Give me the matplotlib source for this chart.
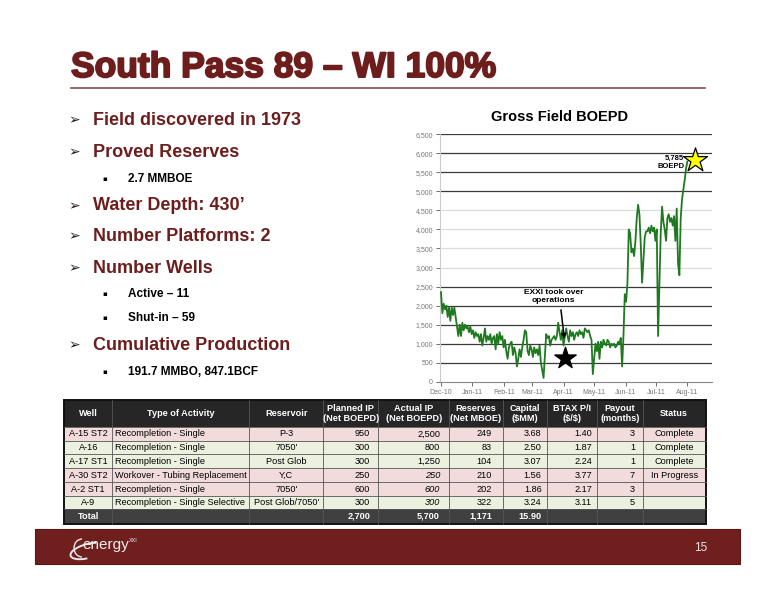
import numpy as np
import pandas as pd
import matplotlib
matplotlib.use("Agg")
import matplotlib.pyplot as plt
import matplotlib.dates as mdates
import matplotlib.patheffects as pe
from matplotlib.patches import Rectangle, Arc
from matplotlib.ticker import FuncFormatter

plt.rcParams['font.family'] = ['Liberation Sans', 'DejaVu Sans']

slideTitle = "South Pass 89 – WI 100%"
chartTitle = "Gross Field BOEPD"
pageNumber = "15"

# (level, text) for the bullet list on the left
bullets = [
    (0, "Field discovered in 1973"),
    (0, "Proved Reserves"),
    (1, "2.7 MMBOE"),
    (0, "Water Depth: 430’"),
    (0, "Number Platforms: 2"),
    (0, "Number Wells"),
    (1, "Active – 11"),
    (1, "Shut-in – 59"),
    (0, "Cumulative Production"),
    (1, "191.7 MMBO, 847.1BCF"),
]

# gross field production (Dec-10 .. Aug-11)
boepd = [
    2350, 1800, 2050, 1900, 2000, 1700, 1950, 1600, 1950, 1750, 1950, 1700,
    1450, 1200, 1500, 1200, 1550, 1350, 1500, 1400, 1450, 1300, 1450, 1250,
    1350, 1150, 1300, 1200, 1250, 1050, 1250, 950, 1150, 1400, 1050, 1200,
    1100, 1250, 1000, 1150, 1200, 850, 1250, 1000, 1300, 1100, 1200, 900,
    1100, 800, 600, 900, 1000, 1050, 700, 900, 750, 400, 600, 850,
    650, 900, 1100, 1350, 1300, 800, 700, 950, 850,
    650, 900, 750, 850, 700, 950, 500, 300, 100, 700, 1250, 1150,
    1200, 950, 1100, 1150, 1200, 1100, 1200, 1550, 1300, 1100, 1350, 950, 1200,
    1400, 1200, 1050, 1350, 1200, 1300, 1100, 1250, 1300, 1200, 1350, 1250,
    1300, 1150, 1400, 1350, 1300, 1350, 1200, 1100, 200, 600,
    1000, 800, 1050, 600, 1050, 900, 1100, 1000, 950, 1100, 1050, 900,
    1000, 950, 1000, 900, 950, 1050, 1000, 1150, 400, 1200,
    2300, 2100, 2600, 4000, 3900, 3400, 3500, 3300, 3700, 4300, 4650, 4400,
    3600, 2600, 3200, 3800, 3950, 3950, 4050, 3900, 4100, 3950, 4050, 3700, 4000,
    1200, 2600, 3900, 4600, 4200, 4000, 3700, 4300, 4400, 4200, 4300, 4100,
    4350, 3700, 4550, 3100, 2800, 4300, 4800, 5050, 5300, 5600, 5785,
]
seriesStart = "2010-12-01"
seriesEnd = "2011-08-01"
takeoverDate = "2011-04-02"
takeoverText = "EXXI took over\noperations"

# project table
tableHeaders = ["Well", "Type of Activity", "Reservoir", "Planned IP\n(Net BOEPD)",
                "Actual IP\n(Net BOEPD)", "Reserves\n(Net MBOE)", "Capital\n($MM)",
                "BTAX P/I\n($/$)", "Payout\n(months)", "Status"]
wells = ["A-15 ST2", "A-16", "A-17 ST1", "A-30 ST2", "A-2 ST1", "A-9"]
activities = ["Recompletion - Single", "Recompletion - Single", "Recompletion - Single",
              "Workover - Tubing Replacement", "Recompletion - Single",
              "Recompletion - Single Selective"]
reservoirs = ["P-3", "7050'", "Post Glob", "Y,C", "7050'", "Post Glob/7050'"]
plannedIP = [950, 300, 300, 250, 600, 300]
actualIP = [2500, 800, 1250, 250, 600, 300]
actualIsEstimate = [False, False, False, True, True, True]
reserves = [249, 83, 104, 210, 202, 322]
capital = [3.68, 2.50, 3.07, 1.56, 1.86, 3.24]
btaxPI = [1.40, 1.87, 2.24, 3.77, 2.17, 3.11]
payout = [3, 1, 1, 7, 3, 5]
status = ["Complete", "Complete", "Complete", "In Progress", "", ""]
totalRow = ["Total", "", "", "2,700", "5,700", "1,171", "15.90", "", "", ""]

darkRed = "#6e1d1d"
pink = "#f2dcdb"
green = "#ebf1de"
rowColors = [pink, green, green, pink, pink, green]

fig = plt.figure(figsize=(7.76, 6.0), dpi=100, facecolor="white")
slide = fig.add_axes([0, 0, 1, 1])
slide.set_xlim(0, 776)
slide.set_ylim(600, 0)
slide.axis("off")

# title and rule
slide.text(71, 77, slideTitle, fontsize=25.5, fontweight="bold", color=darkRed,
           va="baseline", path_effects=[pe.withStroke(linewidth=1.4, foreground=darkRed)])
slide.plot([71, 705], [87.7, 87.7], color="#8a4a4a", lw=1.2)

# bullets
bulletY = [120.7, 152.3, 178.7, 206, 236.7, 268.3, 294.3, 318.3, 345.7, 371.7]
for (level, text), y in zip(bullets, bulletY):
    if level == 0:
        slide.text(68, y, "➢", fontsize=10, family="DejaVu Sans", color="#2a1a1a",
                   ha="left", va="center", fontweight="bold")
        slide.text(93, y, text, fontsize=13, fontweight="bold", color=darkRed,
                   ha="left", va="center")
    else:
        slide.text(102, y, "▪", fontsize=5, family="DejaVu Sans", color="black",
                   ha="left", va="center")
        slide.text(128, y, text, fontsize=8.5, fontweight="bold", color="black",
                   ha="left", va="center")

# chart
slide.text(560, 117, chartTitle, fontsize=10.5, fontweight="bold", color="black",
           ha="center", va="center")

dates = pd.date_range(seriesStart, seriesEnd, periods=len(boepd))
ax = fig.add_axes([440 / 776, (600 - 381.7) / 600, (711.7 - 440) / 776, (381.7 - 134.3) / 600])
ax.set_facecolor("none")
ax.set_xlim(pd.Timestamp("2010-11-30"), pd.Timestamp("2011-08-25"))
ax.set_ylim(0, 6500)
yticks = np.arange(0, 6501, 500)
ax.set_yticks(yticks)
for t in yticks[1:]:
    c = "#dcdcdc" if 3000 <= t <= 4500 else "#3a3a3a"
    ax.axhline(t, color=c, lw=0.9, zorder=1)
ax.plot(dates, boepd, color="#1f7a1f", lw=1.3, zorder=3)
ax.xaxis.set_major_locator(mdates.MonthLocator())
ax.xaxis.set_major_formatter(mdates.DateFormatter("%b-%y"))
ax.yaxis.set_major_formatter(FuncFormatter(lambda v, p: f"{int(v):,}"))
ax.tick_params(axis="both", labelsize=5, colors="#555555", labelcolor="#777777",
               length=3, width=0.6, pad=2)
for s in ["top", "right"]:
    ax.spines[s].set_visible(False)
ax.spines["left"].set_color("#cccccc")
ax.spines["bottom"].set_color("#888888")

takeover = pd.Timestamp(takeoverDate)
ax.text(pd.Timestamp("2011-03-22"), 2230, takeoverText, fontsize=6, fontweight="bold",
        ha="center", va="center", linespacing=1.2)
ax.annotate("", xy=(takeover, 1050), xytext=(pd.Timestamp("2011-03-29"), 1960),
            arrowprops=dict(arrowstyle="-|>", color="black", lw=1.1, mutation_scale=7))
ax.scatter([takeover], [616], marker="*", s=260, color="black", zorder=4)
ax.scatter([dates[-1] + pd.Timedelta(days=8)], [5830], marker="*", s=330,
           facecolor="#ffff00", edgecolor="black", linewidth=0.9, zorder=5, clip_on=False)
ax.text(dates[-1] - pd.Timedelta(days=3), 5760, f"{boepd[-1]:,}\nBOEPD", fontsize=5.5,
        fontweight="bold", ha="right", va="center", linespacing=1.1)

# table
colX = [64.3, 112.3, 249.3, 323.3, 378.3, 449.3, 502.7, 546.7, 596.7, 642.7, 705.5]
rowY = [400, 427, 440.7, 454.3, 468.3, 482.3, 495.7, 509.3, 523.5]
rightX = [None, None, None, 370, 440, 492, 541.7, 592, 635, None]
tableFont = 6.6

def cellText(col, y, text, color="black", weight="normal", style="normal"):
    if rightX[col] is not None:
        x, ha = rightX[col], "right"
    elif col == 1:
        x, ha = colX[1] + 3, "left"
    else:
        x, ha = (colX[col] + colX[col + 1]) / 2, "center"
    slide.text(x, y, text, fontsize=tableFont, color=color, fontweight=weight, style=style,
               ha=ha, va="center", parse_math=False)

slide.add_patch(Rectangle((colX[0], rowY[0]), colX[-1] - colX[0], rowY[1] - rowY[0],
                          facecolor="#262626", edgecolor="none"))
for i, h in enumerate(tableHeaders):
    slide.text((colX[i] + colX[i + 1]) / 2, (rowY[0] + rowY[1]) / 2, h, fontsize=tableFont,
               color="white", fontweight="bold", ha="center", va="center",
               linespacing=1.15, parse_math=False)

for r in range(len(wells)):
    top, bot = rowY[r + 1], rowY[r + 2]
    slide.add_patch(Rectangle((colX[0], top), colX[-1] - colX[0], bot - top,
                              facecolor=rowColors[r], edgecolor="none"))
    y = (top + bot) / 2
    values = [wells[r], activities[r], reservoirs[r], f"{plannedIP[r]:,}", f"{actualIP[r]:,}",
              f"{reserves[r]:,}", f"{capital[r]:.2f}", f"{btaxPI[r]:.2f}", f"{payout[r]}", status[r]]
    for c, v in enumerate(values):
        cellText(c, y, v, style="italic" if (c == 4 and actualIsEstimate[r]) else "normal")

top, bot = rowY[-2], rowY[-1]
slide.add_patch(Rectangle((colX[0], top), colX[-1] - colX[0], bot - top,
                          facecolor="#404040", edgecolor="none"))
for c, v in enumerate(totalRow):
    cellText(c, (top + bot) / 2, v, color="white", weight="bold")

for y in rowY[1:-1]:
    slide.plot([colX[0], colX[-1]], [y, y], color="#555555", lw=0.6)
for x in colX[1:-1]:
    slide.plot([x, x], [rowY[0], rowY[-1]], color="#555555", lw=0.6)
slide.add_patch(Rectangle((colX[0], rowY[0]), colX[-1] - colX[0], rowY[-1] - rowY[0],
                          facecolor="none", edgecolor="#111111", lw=1.4))

# footer band
slide.add_patch(Rectangle((35, 529.3), 705, 35, facecolor="#701f1f", edgecolor="#5a1515", lw=0.8))
slide.text(82, 545, "energy", fontsize=11, color="#eeeeee", ha="left", va="center")
slide.text(129, 540.5, "XXI", fontsize=4, color="#eeeeee", ha="left", va="center")
slide.add_patch(Arc((88, 551), 36, 14, angle=-15, theta1=110, theta2=330, color="#e8e8e8", lw=1.4))
slide.add_patch(Arc((82, 548), 16, 18, angle=0, theta1=90, theta2=270, color="#e8e8e8", lw=1.0))
slide.text(701, 548, pageNumber, fontsize=8.5, color="#f3e0e0", ha="center", va="center")

fig.savefig("out.png", dpi=100, facecolor="white")
